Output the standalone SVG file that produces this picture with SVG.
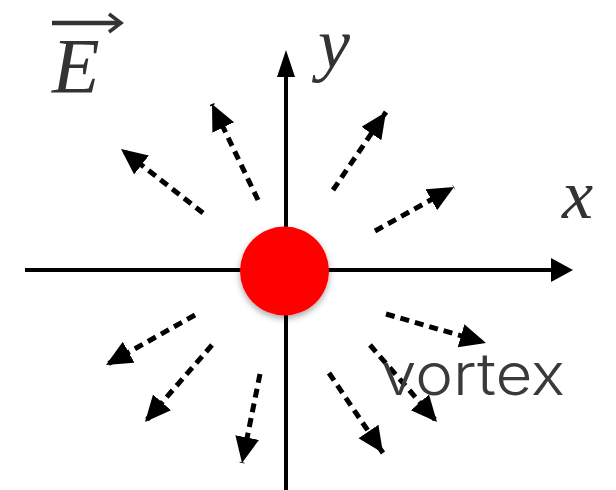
<svg xmlns="http://www.w3.org/2000/svg" width="616" height="490" viewBox="0 0 616 490">
<style>
.axis{stroke:#000;stroke-width:4;fill:none}
.field{stroke:#000;stroke-width:5;stroke-dasharray:9 6;fill:none;marker-end:url(#tri)}
.math{font-family:"Liberation Serif","Times New Roman",serif;font-style:italic;fill:#333}
.lbl{font-family:Inter,"Noto Sans","Liberation Sans",sans-serif;font-weight:300;fill:#3a3a3a}
</style>
<defs>
<marker id="tri" markerUnits="userSpaceOnUse" markerWidth="28" markerHeight="26" refX="26" refY="12" orient="auto" viewBox="0 0 28 26">
<path d="M0,0 L26,12 L0,24 Z" fill="#000"/>
</marker>
<filter id="sh" x="-30%" y="-30%" width="160%" height="170%">
<feDropShadow dx="0" dy="3" stdDeviation="3" flood-color="#000" flood-opacity="0.35"/>
</filter>
</defs>
<g id="axes">
<line class="axis" x1="25" y1="270" x2="556" y2="270"/>
<path d="M551,258 L573,270 L551,282 Z" fill="#000"/>
<line class="axis" x1="286" y1="490" x2="286" y2="74"/>
<path d="M277,77 L286,50 L295,77 Z" fill="#000"/>
</g>
<g id="connectors">
<line class="field" x1="203" y1="213" x2="121" y2="149"/>
<line class="field" x1="258" y1="200" x2="212" y2="104"/>
<line class="field" x1="333" y1="190" x2="386" y2="112"/>
<line class="field" x1="375" y1="231" x2="454" y2="187"/>
<line class="field" x1="195" y1="315" x2="106" y2="365"/>
<line class="field" x1="212" y1="345" x2="145" y2="422"/>
<line class="field" x1="260" y1="374" x2="242" y2="463"/>
<line class="field" x1="386" y1="314" x2="486" y2="343"/>
<line class="field" x1="370" y1="345" x2="437" y2="422"/>
<line class="field" x1="329" y1="373" x2="383" y2="453"/>
</g>
<g id="charge">
<circle cx="284.5" cy="271" r="44.5" fill="#ff0000" filter="url(#sh)"/>
</g>
<g id="label-E">
<line x1="52" y1="23" x2="118" y2="23" stroke="#333" stroke-width="4.5"/>
<path d="M109,14 L121,23 L109,32" fill="none" stroke="#333" stroke-width="3.5"/>
<text class="math" x="52" y="92" font-size="78">E</text>
</g>
<g id="label-y">
<text class="math" x="318" y="68" font-size="72">y</text>
</g>
<g id="label-x">
<text class="math" x="562" y="218" font-size="70">x</text>
</g>
<g id="label-vortex">
<text class="lbl" x="381" y="395" font-size="58" textLength="184" lengthAdjust="spacingAndGlyphs">vortex</text>
</g>
</svg>
